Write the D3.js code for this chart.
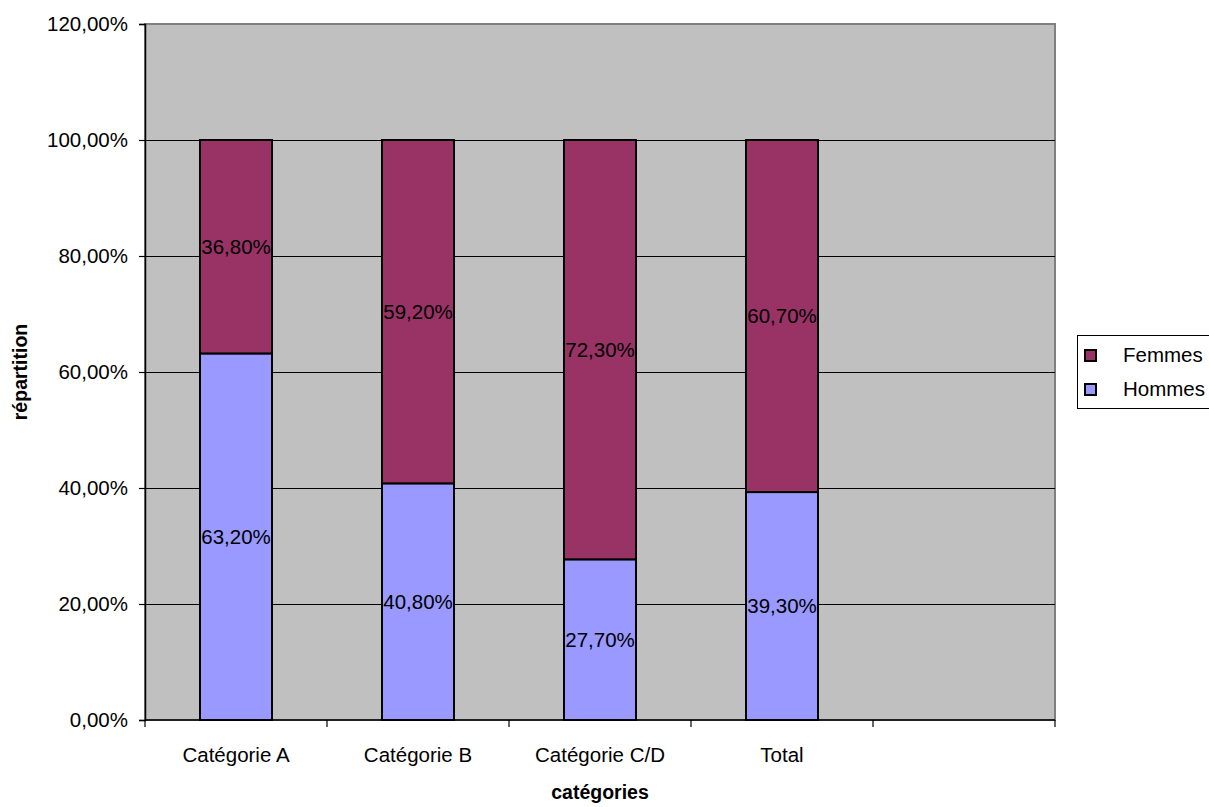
<!DOCTYPE html>
<html>
<head>
<meta charset="utf-8">
<script src="https://cdn.jsdelivr.net/npm/d3@7"></script>
<style>
  html, body { margin: 0; padding: 0; background: #ffffff; }
  svg { display: block; font-family: "Liberation Sans", Arial, sans-serif; }
</style>
</head>
<body>
<svg id="chart" width="1209" height="807"></svg>
<script>
// Répartition hommes / femmes par catégorie
const categories = ["Catégorie A", "Catégorie B", "Catégorie C/D", "Total", ""];
const hommes = [63.2, 40.8, 27.7, 39.3];
const femmes = [36.8, 59.2, 72.3, 60.7];
const seriesNames = ["Femmes", "Hommes"];
const yTicks = [0, 20, 40, 60, 80, 100, 120];

const colors = { Hommes: "#9999FF", Femmes: "#993366" };

const svg = d3.select("#chart");
const plot = { left: 145, right: 1055, top: 24, bottom: 720 };
const fs = 20.5;

const x = d3.scaleBand()
  .domain(categories.map((c, i) => i))
  .range([plot.left, plot.right])
  .paddingInner(0).paddingOuter(0);

const y = d3.scaleLinear().domain([0, 120]).range([plot.bottom, plot.top]);

const fmt = v => d3.format(".2f")(v).replace(".", ",") + "%";

// plot area background
svg.append("rect")
  .attr("x", plot.left).attr("y", plot.top)
  .attr("width", plot.right - plot.left).attr("height", plot.bottom - plot.top)
  .attr("fill", "#C0C0C0").attr("stroke", "#808080").attr("stroke-width", 2);

// horizontal gridlines
svg.append("g").selectAll("line")
  .data(yTicks.filter(t => t > 0 && t < 120))
  .join("line")
  .attr("x1", plot.left).attr("x2", plot.right)
  .attr("y1", d => Math.round(y(d)) + 0.5).attr("y2", d => Math.round(y(d)) + 0.5)
  .attr("stroke", "#000").attr("stroke-width", 1);

// y axis
const yAxis = d3.axisLeft(y).tickValues(yTicks).tickSize(6).tickPadding(11).tickFormat(fmt);
const gy = svg.append("g").attr("transform", `translate(${plot.left},0)`).call(yAxis);
gy.select(".domain").attr("stroke", "#000").attr("stroke-width", 1.5);
gy.selectAll(".tick line").attr("stroke", "#000").attr("stroke-width", 1.2);
gy.selectAll(".tick text")
  .attr("font-size", fs).attr("fill", "#000")
  .attr("font-family", "Liberation Sans, Arial, sans-serif");

// x axis: ticks at category boundaries
const xBounds = d3.range(categories.length + 1).map(i => plot.left + i * x.bandwidth());
const gx = svg.append("g");
gx.append("line")
  .attr("x1", plot.left).attr("x2", plot.right)
  .attr("y1", plot.bottom).attr("y2", plot.bottom)
  .attr("stroke", "#000").attr("stroke-width", 1.5);
gx.selectAll("line.tk").data(xBounds).join("line").attr("class", "tk")
  .attr("x1", d => d).attr("x2", d => d)
  .attr("y1", plot.bottom).attr("y2", plot.bottom + 7)
  .attr("stroke", "#000").attr("stroke-width", 1.2);
gx.selectAll("text").data(categories).join("text")
  .attr("x", (d, i) => x(i) + x.bandwidth() / 2)
  .attr("y", 762)
  .attr("text-anchor", "middle")
  .attr("font-size", fs)
  .text(d => d);

// stacked bars
const rows = hommes.map((h, i) => ({ i, Hommes: h, Femmes: femmes[i] }));
const stack = d3.stack().keys(["Hommes", "Femmes"])(rows);
const barW = 72;

const layers = svg.append("g").selectAll("g").data(stack).join("g")
  .attr("fill", d => colors[d.key]);

layers.selectAll("rect").data(d => d).join("rect")
  .attr("x", d => x(d.data.i) + x.bandwidth() / 2 - barW / 2)
  .attr("y", d => y(d[1]))
  .attr("width", barW)
  .attr("height", d => y(d[0]) - y(d[1]))
  .attr("stroke", "#000").attr("stroke-width", 2);

// value labels centred in each segment
layers.selectAll("text").data(d => d.map(p => ({ p, key: d.key }))).join("text")
  .attr("x", d => x(d.p.data.i) + x.bandwidth() / 2)
  .attr("y", d => y((d.p[0] + d.p[1]) / 2))
  .attr("dy", "0.35em")
  .attr("text-anchor", "middle")
  .attr("font-size", fs)
  .attr("fill", "#000")
  .text(d => fmt(d.p.data[d.key]));

// axis titles
svg.append("text")
  .attr("x", 600).attr("y", 799)
  .attr("text-anchor", "middle")
  .attr("font-size", 19.5).attr("font-weight", "bold")
  .text("catégories");

svg.append("text")
  .attr("transform", "translate(27,372) rotate(-90)")
  .attr("text-anchor", "middle")
  .attr("font-size", 19.5).attr("font-weight", "bold")
  .text("répartition");

// legend
const legend = svg.append("g");
legend.append("rect")
  .attr("x", 1077.5).attr("y", 335.5)
  .attr("width", 150).attr("height", 73)
  .attr("fill", "#fff").attr("stroke", "#000").attr("stroke-width", 1);

const items = legend.selectAll("g.item").data(seriesNames).join("g").attr("class", "item")
  .attr("transform", (d, i) => `translate(0,${355 + i * 34})`);
items.append("rect")
  .attr("x", 1085).attr("y", -5)
  .attr("width", 11).attr("height", 11)
  .attr("fill", d => colors[d]).attr("stroke", "#000").attr("stroke-width", 2);
items.append("text")
  .attr("x", 1123).attr("y", 0).attr("dy", "0.35em")
  .attr("font-size", fs)
  .text(d => d);
</script>
</body>
</html>
